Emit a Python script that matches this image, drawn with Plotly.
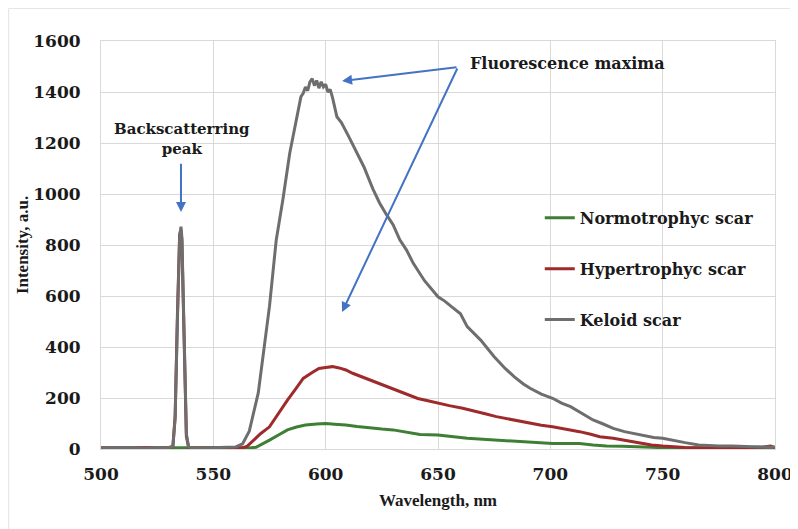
import plotly.graph_objects as go

# ---- data ----
keloid_wl = [500, 505, 510, 515, 520, 525, 530, 532, 533, 534, 535, 535.6, 536, 537, 538, 539, 540,
             545, 550, 555, 560, 563, 566, 570, 575, 578, 581, 584, 587, 589, 590, 591, 592, 593, 594, 595,
             596, 597, 598, 599, 600, 601, 602, 603, 605, 607, 610, 614, 617, 621, 624, 627, 630, 633, 636,
             639, 644, 650, 653, 656, 660, 663, 666, 669, 675, 680, 684, 688, 691, 696, 701, 705, 709, 714,
             719, 723, 728, 733, 737, 742, 746, 750, 755, 760, 766, 770, 775, 781, 785, 790, 795, 800]
keloid_int = [5, 4, 6, 5, 4, 6, 5, 10, 120, 500, 830, 872, 830, 450, 60, 8, 5,
              4, 5, 6, 8, 20, 70, 220, 560, 820, 980, 1160, 1300, 1382, 1395, 1420, 1405, 1440, 1452, 1425,
              1445, 1415, 1440, 1420, 1430, 1400, 1410, 1380, 1303, 1280, 1230, 1160, 1107, 1020, 965, 920,
              880, 820, 780, 728, 660, 597, 580, 558, 530, 480, 455, 427, 362, 315, 283, 255, 238, 215, 199,
              180, 166, 140, 114, 100, 81, 68, 61, 52, 45, 42, 32, 25, 16, 14, 12, 12, 10, 9, 8, 7]

hyper_wl = [500, 510, 520, 530, 532, 533, 534, 535, 535.5, 536, 537, 538, 539, 540, 550, 560, 563,
            565, 568, 571, 575, 579, 583, 587, 590, 594, 597, 600, 603, 606, 609, 612, 617, 623, 628,
            632, 636, 641, 645, 650, 655, 661, 666, 671, 676, 681, 686, 691, 696, 701, 707, 713, 718,
            722, 728, 733, 737, 740, 745, 750, 755, 760, 766, 775, 785, 795, 798, 800]
hyper_int = [5, 4, 6, 5, 10, 130, 520, 840, 860, 820, 430, 50, 6, 4, 5, 4, 5,
             10, 35, 60, 87, 140, 192, 240, 277, 300, 316, 320, 323, 318, 310, 297, 280, 257, 240,
             228, 215, 198, 190, 179, 170, 160, 150, 138, 127, 118, 108, 100, 93, 87, 78, 68, 58,
             48, 42, 34, 29, 22, 16, 12, 8, 6, 5, 4, 5, 8, 12, 5]

normo_wl = [500, 520, 540, 560, 566, 569, 572, 575, 579, 583, 587, 591, 596, 600, 604, 609, 614, 620,
            625, 630, 636, 642, 650, 656, 663, 670, 676, 684, 691, 696, 701, 707, 713, 719, 725, 732,
            740, 745, 750, 760, 800]
normo_int = [4, 5, 5, 4, 4, 7, 20, 35, 55, 75, 86, 94, 98, 100, 97, 94, 88, 81,
             78, 75, 66, 57, 55, 48, 42, 38, 35, 30, 25, 24, 22, 22, 22, 16, 12, 11,
             10, 7, 5, 4, 4]

series_names = ["Normotrophyc scar", "Hypertrophyc scar", "Keloid scar"]
series_colors = ["#3f7f35", "#9e2a2b", "#6e6e6e"]

x_ticks = [500, 550, 600, 650, 700, 750, 800]
y_ticks = [0, 200, 400, 600, 800, 1000, 1200, 1400, 1600]

FONT = "DejaVu Serif"
TITLE_FONT = "Liberation Serif"
TXT = "#1a1a1a"

fig = go.Figure()
for name, wl, val, col in zip(series_names,
                              [normo_wl, hyper_wl, keloid_wl],
                              [normo_int, hyper_int, keloid_int],
                              series_colors):
    fig.add_trace(go.Scatter(x=wl, y=val, mode="lines", name=f"<b>{name}</b>", legendgroup=name,
                             line=dict(color=col, width=3)))

arrow_color = "#4472c4"
ann = []
# Backscattering peak label + arrow
ann.append(dict(x=536, y=1214, xref="x", yref="y", text="<b>Backscatterring<br>peak</b>",
                showarrow=False, font=dict(family=FONT, size=15, color=TXT), align="center"))
ann.append(dict(x=535.6, y=929, ax=535.6, ay=1125, xref="x", yref="y", axref="x", ayref="y",
                text="", showarrow=True, arrowhead=2, arrowsize=1, arrowwidth=2, arrowcolor=arrow_color))
# Fluorescence maxima label + arrows
ann.append(dict(x=663.5, y=1512, xref="x", yref="y", text="<b>Fluorescence maxima</b>",
                showarrow=False, xanchor="left", font=dict(family=FONT, size=16, color=TXT)))
ann.append(dict(x=607.3, y=1443, ax=658.9, ay=1498, xref="x", yref="y", axref="x", ayref="y",
                text="", showarrow=True, arrowhead=2, arrowsize=1, arrowwidth=2, arrowcolor=arrow_color))
ann.append(dict(x=607.3, y=537, ax=658.9, ay=1498, xref="x", yref="y", axref="x", ayref="y",
                text="", showarrow=True, arrowhead=2, arrowsize=1, arrowwidth=2, arrowcolor=arrow_color))

fig.update_layout(
    width=790, height=521,
    margin=dict(l=93, r=23, t=33, b=80, autoexpand=False),
    paper_bgcolor="white", plot_bgcolor="white",
    font=dict(family=FONT, size=15, color=TXT),
    showlegend=True,
    legend=dict(x=0.651, y=0.608, xanchor="left", yanchor="top", tracegroupgap=27,
                font=dict(family=FONT, size=16, color=TXT), bgcolor="rgba(0,0,0,0)"),
    annotations=ann,
    shapes=[dict(type="rect", xref="paper", yref="paper", x0=-0.137, y0=-0.22, x1=1.05, y1=1.08,
                 line=dict(color="#e3e3e3", width=1), layer="below")],
)
fig.update_xaxes(range=[500, 800], tickvals=x_ticks, ticktext=[f"<b>{v}</b>" for v in x_ticks],
                 automargin=False, tickfont=dict(family=FONT, size=17, color=TXT),
                 showgrid=True, gridcolor="#d9d9d9", gridwidth=1,
                 showline=True, linecolor="#d9d9d9", mirror=True, zeroline=False,
                 ticks="", ticklabelstandoff=10,
                 title=dict(text="<b>Wavelength, nm</b>", font=dict(family=TITLE_FONT, size=17, color=TXT), standoff=10))
fig.update_yaxes(range=[0, 1600], tickvals=y_ticks, ticktext=[f"<b>{v}</b>" for v in y_ticks],
                 automargin=False, tickfont=dict(family=FONT, size=17, color=TXT),
                 showgrid=True, gridcolor="#d9d9d9", gridwidth=1,
                 showline=True, linecolor="#d9d9d9", mirror=True, zeroline=False,
                 ticks="", ticklabelstandoff=16,
                 title=dict(text="<b>Intensity, a.u.</b>", font=dict(family=TITLE_FONT, size=17, color=TXT), standoff=0))

fig.write_html("out.html")
